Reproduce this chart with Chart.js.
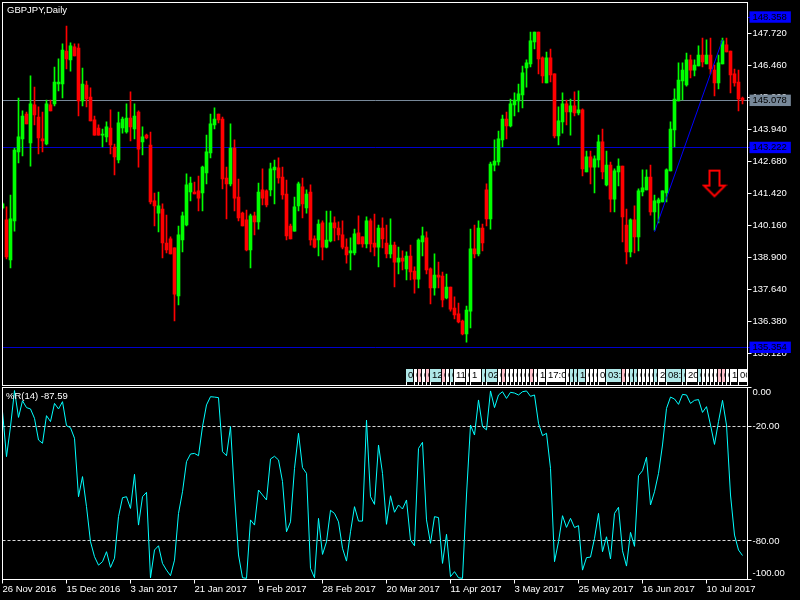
<!DOCTYPE html>
<html>
<head>
<meta charset="utf-8">
<title>GBPJPY,Daily</title>
<script src="https://cdn.jsdelivr.net/npm/chart.js@4/dist/chart.umd.js"></script>
<style>
  html, body { margin: 0; padding: 0; background: #000; }
  canvas { position: absolute; left: 0; }
  #priceChart { top: 0; }
  #wprChart { top: 386px; }
</style>
</head>
<body>
<canvas id="priceChart" width="800" height="386"></canvas>
<canvas id="wprChart" width="800" height="214"></canvas>
<script>
const priceTitle = "GBPJPY,Daily";
const wprTitle = "%R(14) -87.59";

const opens = [
  140.84,140.37,138.79,140.33,143.05,143.56,144.54,143.40,144.90,144.42,
  143.56,143.36,144.90,144.94,145.72,145.72,147.02,146.67,147.18,147.14,
  145.05,145.68,145.21,144.31,143.99,143.71,143.64,143.99,143.24,142.73,
  143.99,143.83,144.38,143.95,144.62,143.44,143.71,143.32,141.12,140.64,
  140.80,139.46,139.62,139.27,137.38,139.58,140.17,141.47,141.47,141.51,
  141.43,142.22,143.01,144.11,144.54,144.34,142.02,141.79,143.20,141.27,
  140.64,140.37,139.19,140.53,140.29,141.55,141.51,141.55,142.34,142.42,
  142.06,141.39,140.13,139.93,140.92,141.67,140.84,141.47,139.62,139.58,
  140.25,139.30,139.54,140.25,140.05,139.78,139.30,139.07,139.07,139.86,
  139.70,139.42,140.33,139.46,139.30,140.05,139.46,139.03,139.38,138.71,
  138.87,138.44,138.95,138.36,138.04,139.50,139.66,138.44,137.69,138.20,
  138.16,137.30,137.73,136.90,136.67,136.39,135.88,136.78,139.23,139.03,
  140.05,141.55,140.41,142.53,142.65,143.52,144.34,144.07,144.90,145.05,
  145.29,146.35,146.51,147.38,147.77,146.75,145.76,146.75,146.12,143.68,
  144.23,144.94,144.62,144.86,144.58,144.70,142.26,142.85,142.45,142.73,
  143.44,141.75,142.53,141.19,142.26,142.49,140.17,139.11,140.37,139.70,
  141.47,141.55,142.06,140.68,141.04,141.08,141.43,142.30,143.91,145.05,
  145.84,145.68,146.67,146.27,146.43,146.86,146.51,146.86,146.27,145.76,
  146.51,147.26,147.02,146.12,145.80,145.17
];
const highs = [
  141.04,140.88,141.35,143.20,145.17,144.66,144.62,146.04,145.60,144.82,
  144.62,145.09,145.09,146.39,146.71,147.30,148.00,147.34,147.30,147.30,
  146.35,145.84,145.57,144.46,144.11,143.95,144.23,144.70,143.36,144.62,
  144.42,144.94,145.41,144.94,144.66,144.03,143.75,143.83,141.43,141.47,
  141.00,140.56,139.70,139.27,140.13,140.68,142.18,142.06,141.86,142.10,
  142.49,143.71,144.54,144.78,144.54,144.42,142.45,144.15,143.52,141.98,
  140.68,140.76,140.60,140.68,141.82,142.38,141.55,142.61,142.73,142.81,
  142.45,141.94,140.21,141.27,141.86,142.02,141.55,141.75,139.74,140.37,
  140.33,140.72,140.72,140.49,140.29,140.33,139.62,139.66,140.01,140.53,
  139.70,140.49,140.41,140.60,140.17,140.45,140.17,140.41,139.50,139.30,
  139.15,139.11,139.38,138.52,139.62,140.09,139.90,138.48,139.03,138.71,
  138.32,138.24,137.73,137.34,137.10,136.43,136.98,140.01,140.17,140.33,
  140.21,141.79,142.65,143.52,143.87,144.50,144.62,145.13,145.37,145.72,
  146.43,146.67,147.77,147.77,147.77,146.79,146.98,147.10,146.12,144.82,
  145.37,145.09,145.13,145.41,145.45,144.74,143.08,143.08,142.89,143.71,
  143.95,143.08,142.65,142.38,142.77,142.49,140.80,140.41,140.92,141.59,
  142.34,142.34,142.53,141.35,141.23,141.51,142.38,144.23,145.53,146.55,
  146.55,146.94,146.86,146.67,147.22,147.53,147.46,147.53,146.47,146.86,
  147.53,147.53,147.02,146.31,146.27,145.21
];
const lows = [
  140.80,138.83,138.48,139.93,142.61,142.89,144.15,142.49,144.11,142.97,
  143.05,143.32,144.66,144.86,145.45,145.17,146.31,146.23,146.83,144.46,
  144.86,144.82,144.27,143.71,143.71,143.24,143.44,142.97,142.14,142.61,
  143.79,143.79,143.48,143.56,142.45,142.93,143.56,141.00,140.13,139.90,
  138.87,139.07,139.03,136.39,137.02,139.11,140.13,141.12,141.39,140.72,
  140.72,141.79,142.81,143.95,144.19,141.59,140.41,141.71,140.72,140.33,
  140.13,139.15,138.48,139.78,140.01,140.96,140.88,141.31,141.00,141.82,
  141.19,139.58,139.62,139.93,140.72,140.45,140.64,139.38,139.27,138.95,
  138.79,139.27,139.50,139.54,139.58,139.23,138.67,138.40,138.99,139.42,
  139.30,139.27,139.11,138.95,138.52,139.27,138.87,138.87,137.73,138.24,
  138.40,138.01,138.01,137.49,137.69,138.95,138.24,137.06,137.41,137.69,
  136.94,137.26,136.78,136.47,136.31,135.84,135.56,136.12,138.87,138.95,
  139.15,140.13,140.01,142.30,142.53,143.24,143.56,144.03,144.46,144.62,
  144.78,145.60,146.39,147.10,146.12,145.76,145.76,145.80,143.60,143.32,
  143.79,144.11,143.71,144.46,144.50,142.10,142.26,141.79,141.43,142.45,
  141.98,141.71,140.68,140.68,141.71,139.50,138.64,138.91,139.07,139.15,
  141.31,141.55,140.56,139.97,140.25,141.08,141.08,142.30,143.24,145.05,
  145.09,145.64,145.96,146.04,146.43,146.39,146.51,146.12,145.25,145.53,
  146.51,146.98,145.37,145.64,144.66,144.94
];
const closes = [
  141.00,138.91,140.41,143.12,143.64,144.46,144.15,144.94,144.50,143.60,
  143.48,144.94,144.66,145.80,145.80,147.06,146.71,147.22,146.83,145.05,
  145.72,145.13,144.27,143.71,143.71,143.75,144.03,143.32,142.85,144.19,
  144.34,144.38,144.03,144.46,143.16,143.64,143.60,141.08,140.92,140.92,
  139.46,139.19,139.03,137.45,139.78,140.53,141.75,141.82,141.39,141.23,
  142.45,143.05,144.15,144.34,144.31,141.98,141.79,143.20,141.23,140.45,
  140.13,139.19,140.53,140.29,141.47,141.23,140.96,142.38,142.45,142.02,
  141.35,139.74,139.62,140.88,141.79,141.00,141.39,139.58,139.30,140.21,
  139.30,139.58,140.25,140.05,139.78,139.30,138.99,139.15,139.82,139.42,
  139.42,140.33,139.42,139.30,140.05,139.62,139.03,139.38,138.71,138.87,
  138.75,138.95,138.32,138.04,139.58,139.74,138.40,137.69,138.20,138.12,
  137.22,137.73,136.86,136.63,136.35,135.88,136.82,139.23,139.03,140.05,
  139.46,140.41,142.57,142.69,143.56,144.34,144.07,144.94,145.09,145.33,
  146.16,146.55,147.42,147.77,146.71,146.04,146.75,146.08,143.68,144.27,
  144.94,144.62,144.86,144.58,144.70,142.38,142.85,142.45,142.77,143.44,
  142.26,142.53,141.19,142.30,142.49,140.49,139.11,140.37,139.70,141.51,
  141.63,142.06,140.68,141.12,141.16,141.51,142.34,143.95,145.13,145.88,
  146.27,146.67,146.27,146.47,146.86,146.59,146.86,146.31,145.76,146.55,
  147.42,146.98,146.08,145.76,145.13,145.08
];
const wprValues = [
  -12.5,-36,-20.3,-1.5,-15.5,-6.8,-10.4,-11.1,-16,-27.3,
  -29,-14.6,-17.7,-8.2,-11.1,-7.3,-19.8,-20.9,-26.4,-56.9,
  -46.4,-62.1,-80.4,-88.2,-92.6,-90.8,-85.6,-93.8,-89,-67.3,
  -57.4,-56.9,-63,-45.2,-71.7,-56.9,-54.6,-99.2,-84.7,-82.5,
  -91.7,-95.2,-98.1,-90,-65.6,-54.3,-38.6,-34.6,-34.3,-35.5,
  -20.3,-9,-4.7,-4.9,-5.2,-33.4,-35.5,-20.3,-56,-87.3,
  -99.2,-99.5,-69,-71.7,-53.4,-56,-58.6,-37.2,-35.8,-37.7,
  -49,-75.2,-70,-42.1,-23.8,-41.7,-44.7,-94.3,-99.2,-68.2,
  -87,-80.4,-64,-65.6,-70,-83.8,-90.5,-75.2,-62.1,-69.6,
  -69.6,-16.9,-56.9,-60.9,-29.9,-44.7,-71.3,-56.4,-65,-61.2,
  -63.3,-58.6,-79.5,-82.5,-31.7,-28.5,-69,-81.2,-67.3,-67.8,
  -91.7,-76.5,-98.6,-96,-99.2,-99.5,-56,-19.5,-24.7,-6.4,
  -20.3,-22,-1.7,-10.4,-3.8,-2.1,-5.6,-2.4,-2.8,-3.8,
  -2.1,-1.7,-4.5,-3.8,-18.6,-25,-23.8,-42.1,-90.8,-80.4,
  -66.8,-72.9,-68.2,-73,-72,-95.2,-88.7,-88.4,-78.6,-65.6,
  -85.6,-77.8,-89.4,-65.6,-62.4,-85.1,-93.1,-75.5,-82.8,-45.9,
  -43.3,-36.3,-61.2,-54.3,-44.7,-29.9,-10.8,-4.9,-5.9,-8.7,
  -3.5,-3.8,-8.2,-6.6,-6.2,-12.9,-9.9,-19.5,-29.6,-17.7,
  -6.6,-19.5,-56,-76.9,-84.7,-87.59
];

const priceTicks = [147.72,146.46,145.2,143.94,142.68,141.42,140.16,138.9,137.64,136.38,135.12];
const levelPrices = [148.358,145.078,143.222,135.354];
const levelBoxColors = ["#0000ff","#778899","#0000ff","#0000ff"];
const levelLineColors = ["rgba(0,0,0,0)","#778899","#0000cd","#0000cd"];
const wprTicks = [-20,-80,0,-100];
const wprDashed = [-20,-80];
const wprLabelSpots = [-2.5,-97];
const wprLabelTexts = ["0.00","-100.00"];

const dateBars = [0,16,32,48,64,80,96,112,128,144,160,176];
const dateLabels = ["26 Nov 2016","15 Dec 2016","3 Jan 2017","21 Jan 2017","9 Feb 2017","28 Feb 2017",
  "20 Mar 2017","11 Apr 2017","3 May 2017","25 May 2017","16 Jun 2017","10 Jul 2017"];

const trendBars = [163,180];
const trendPrices = [139.90,147.46];
const arrowBars = [178];
const arrowPrices = [141.80];

const stripBars = [101,103,104,105,106,107,110,111,112,113,116,117,120,121,124,125,126,127,128,129,
  130,131,132,133,134,136,141,142,143,144,146,147,148,149,151,155,156,157,158,159,
  160,161,162,163,164,166,170,171,174,175,176,177,178,179,180,181,182,184];
const stripTexts = ["0","0","0","0","0","12","0","0","0","11","0","1","0","02","0","0","0","0","0","0",
  "0","0","0","0","1","17:0","0","0","0","1","0","0","0","0","03:","0","0","0","0","0",
  "0","0","0","0","2","08:","0","20","0","0","0","0","0","0","0","0","1","06"];
const stripKinds = ["c","w","p","w","p","c","p","w","c","w","w","w","c","c","w","p","w","w","w","w",
  "w","w","p","w","w","w","w","c","c","c","w","w","w","w","c","p","w","c","c","w",
  "w","w","w","c","w","c","c","w","c","w","w","w","w","p","p","w","w","w"];
const stripColors = { c: "#b0e8e8", w: "#ffffff", p: "#ffc0cb" };

const uiFont = "'Liberation Sans', Arial, sans-serif";
const fontPx = 9.5;
const upColor = "#00ff00";
const downColor = "#ff0000";
const xMax = 186.25;

function sameAs(a, b) {
  return Math.abs(a - b) < 1e-6;
}

function levelIndex(v) {
  return levelPrices.findIndex((p) => sameAs(p, v));
}

// little outline arrow, used as the point image of the arrow dataset
function makeArrow() {
  const c = document.createElement("canvas");
  c.width = 26;
  c.height = 30;
  const g = c.getContext("2d");
  g.strokeStyle = "#ff0000";
  g.lineWidth = 2;
  g.beginPath();
  g.moveTo(8, 2);
  g.lineTo(18, 2);
  g.lineTo(18, 17);
  g.lineTo(23.5, 17);
  g.lineTo(13, 27.5);
  g.lineTo(2.5, 17);
  g.lineTo(8, 17);
  g.closePath();
  g.stroke();
  return c;
}

const paneFrame = {
  id: "paneFrame",
  afterDatasetsDraw(chart, args, opts) {
    const ctx = chart.ctx;
    const a = chart.chartArea;
    ctx.save();
    ctx.strokeStyle = "#ffffff";
    ctx.lineWidth = 1;
    ctx.strokeRect(a.left, a.top, a.right - a.left, a.bottom - a.top);
    ctx.fillStyle = "#ffffff";
    ctx.font = fontPx + "px " + uiFont;
    ctx.textBaseline = "middle";
    ctx.fillText(opts.text, opts.textX, opts.textY);
    ctx.restore();
  },
};

// the row of overlapping time boxes above the bottom of the price pane
const timeStrip = {
  id: "timeStrip",
  afterDatasetsDraw(chart) {
    const ctx = chart.ctx;
    const a = chart.chartArea;
    const x = chart.scales.x;
    ctx.save();
    ctx.beginPath();
    ctx.rect(a.left, a.top, a.right - a.left, a.bottom - a.top);
    ctx.clip();
    ctx.font = fontPx + "px " + uiFont;
    ctx.textBaseline = "middle";
    stripBars.forEach((bar, i) => {
      const left = Math.floor(x.getPixelForValue(bar));
      ctx.fillStyle = "#000000";
      ctx.fillRect(left - 1, 369, 1, 13);
      ctx.fillStyle = stripColors[stripKinds[i]];
      ctx.fillRect(left, 369, 40, 13);
      ctx.fillStyle = "#000000";
      ctx.fillRect(left + 1, 382, 40, 3);
      ctx.fillStyle = "#ffffff";
      ctx.fillRect(left, 382, 1, 3);
      ctx.fillStyle = "#000000";
      ctx.fillText(stripTexts[i], left + 2, 375.5);
    });
    ctx.restore();
  },
};

const candlePoints = (a, b) => closes.map((c, i) => ({ x: i, y: [a[i], b[i]] }));
const candleColors = closes.map((c, i) => (c >= opens[i] ? upColor : downColor));

new Chart(document.getElementById("priceChart"), {
  type: "bar",
  data: {
    datasets: [
      {
        type: "line",
        data: trendBars.map((b, i) => ({ x: b, y: trendPrices[i] })),
        borderColor: "#0000ff",
        borderWidth: 1,
        pointRadius: 0,
      },
      {
        type: "line",
        data: arrowBars.map((b, i) => ({ x: b, y: arrowPrices[i] })),
        showLine: false,
        pointStyle: makeArrow(),
        pointRadius: 5,
      },
      {
        data: candlePoints(opens, closes),
        backgroundColor: candleColors,
        barThickness: 3,
        minBarLength: 1,
      },
      {
        data: candlePoints(lows, highs),
        backgroundColor: candleColors,
        barThickness: 1,
      },
    ],
  },
  plugins: [timeStrip, paneFrame],
  options: {
    responsive: false,
    animation: false,
    devicePixelRatio: 1,
    layout: { autoPadding: false, padding: { left: 2.5, top: 2.5, right: 0, bottom: 0.5 } },
    plugins: {
      legend: { display: false },
      tooltip: { enabled: false },
      paneFrame: { text: priceTitle, textX: 7, textY: 10 },
    },
    scales: {
      x: {
        type: "linear",
        display: false,
        offset: false,
        stacked: true, // body and wick share one slot, values stay unstacked on y
        min: 0,
        max: xMax,
        grid: { offset: false },
      },
      y: {
        position: "right",
        stacked: false,
        min: 133.85,
        max: 148.93,
        border: { display: false },
        afterBuildTicks(s) {
          s.ticks = priceTicks.concat(levelPrices).map((v) => ({ value: v }));
        },
        afterFit(s) {
          s.width = 52.5;
          s.paddingTop = 0;
          s.paddingBottom = 0;
        },
        grid: {
          tickLength: 4,
          color(ctx) {
            const k = levelIndex(ctx.tick.value);
            return k < 0 ? "rgba(0,0,0,0)" : levelLineColors[k];
          },
          tickColor(ctx) {
            const k = levelIndex(ctx.tick.value);
            return k < 0 ? "#ffffff" : levelBoxColors[k];
          },
        },
        ticks: {
          autoSkip: false,
          padding: 1,
          font: { family: uiFont, size: fontPx },
          callback: (v) => Number(v).toFixed(3),
          color: (ctx) => (levelIndex(ctx.tick.value) < 0 ? "#ffffff" : "#000000"),
          showLabelBackdrop: (ctx) => levelIndex(ctx.tick.value) >= 0,
          backdropColor: (ctx) => levelBoxColors[levelIndex(ctx.tick.value)] || "rgba(0,0,0,0)",
          backdropPadding: { left: 3, right: 4, top: 0, bottom: 0 },
        },
      },
    },
  },
});

new Chart(document.getElementById("wprChart"), {
  type: "line",
  data: {
    datasets: [
      {
        data: wprValues.map((v, i) => ({ x: i, y: v })),
        borderColor: "#00ffff",
        borderWidth: 1,
        pointRadius: 0,
        tension: 0,
      },
    ],
  },
  plugins: [paneFrame],
  options: {
    responsive: false,
    animation: false,
    devicePixelRatio: 1,
    layout: { autoPadding: false, padding: { left: 2.5, top: 1.5, right: 0, bottom: 0 } },
    plugins: {
      legend: { display: false },
      tooltip: { enabled: false },
      paneFrame: { text: wprTitle, textX: 6, textY: 10.5 },
    },
    scales: {
      x: {
        type: "linear",
        offset: false,
        min: 0,
        max: xMax,
        border: { display: false },
        afterBuildTicks(s) {
          s.ticks = dateBars.map((v) => ({ value: v }));
        },
        afterFit(s) {
          s.height = 20.5;
          s.paddingLeft = 0;
          s.paddingRight = 0;
        },
        grid: { drawOnChartArea: false, tickLength: 4, tickColor: "#ffffff", offset: false },
        ticks: {
          autoSkip: false,
          maxRotation: 0,
          minRotation: 0,
          align: "start",
          padding: 0,
          color: "#ffffff",
          font: { family: uiFont, size: fontPx },
          callback: (v) => dateLabels[dateBars.indexOf(v)],
        },
      },
      y: {
        position: "right",
        min: -100.1,
        max: 0.1,
        border: { display: false, dash: (ctx) => (wprDashed.includes(ctx.tick.value) ? [3, 2] : []) },
        afterBuildTicks(s) {
          s.ticks = wprTicks.concat(wprLabelSpots).map((v) => ({ value: v }));
        },
        afterFit(s) {
          s.width = 52.5;
          s.paddingTop = 0;
          s.paddingBottom = 0;
        },
        grid: {
          tickLength: 4,
          color: (ctx) => (wprDashed.includes(ctx.tick.value) ? "#d8d8d8" : "rgba(0,0,0,0)"),
          tickColor: (ctx) => (wprTicks.includes(ctx.tick.value) ? "#ffffff" : "rgba(0,0,0,0)"),
        },
        ticks: {
          autoSkip: false,
          padding: 1,
          color: "#ffffff",
          font: { family: uiFont, size: fontPx },
          callback(v) {
            const k = wprLabelSpots.indexOf(v);
            if (k >= 0) return wprLabelTexts[k];
            return wprDashed.includes(v) ? Number(v).toFixed(2) : "";
          },
        },
      },
    },
  },
});
</script>
</body>
</html>
